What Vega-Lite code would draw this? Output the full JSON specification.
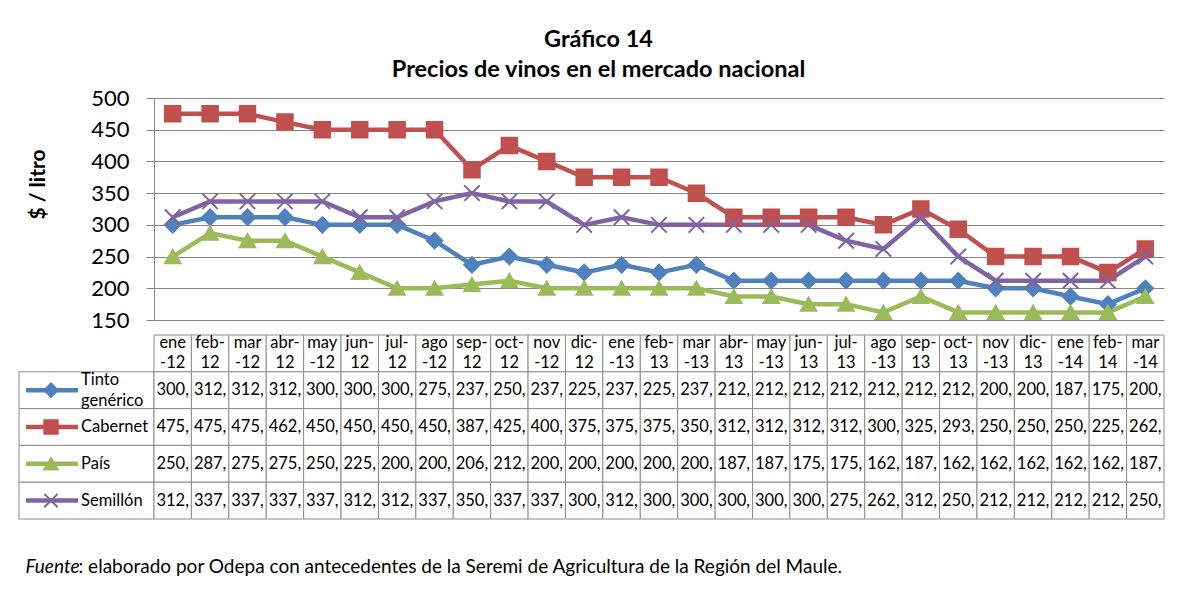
{
  "$schema": "https://vega.github.io/schema/vega-lite/v6.json",
  "padding": {"left": 18, "top": 27, "right": 5, "bottom": 5},
  "autosize": {"type": "pad"},
  "background": "white",
  "config": {
    "view": {"stroke": null},
    "font": "Lato",
    "text": {"font": "Lato", "color": "black"},
    "title": {"font": "Lato", "color": "black"},
    "axis": {"labelFont": "Lato", "titleFont": "Lato"}
  },
  "datasets": {
    "precios": [
      {"mes": "ene-12", "Tinto genérico": 300, "Cabernet": 475, "País": 250, "Semillón": 312},
      {"mes": "feb-12", "Tinto genérico": 312, "Cabernet": 475, "País": 287, "Semillón": 337},
      {"mes": "mar-12", "Tinto genérico": 312, "Cabernet": 475, "País": 275, "Semillón": 337},
      {"mes": "abr-12", "Tinto genérico": 312, "Cabernet": 462, "País": 275, "Semillón": 337},
      {"mes": "may-12", "Tinto genérico": 300, "Cabernet": 450, "País": 250, "Semillón": 337},
      {"mes": "jun-12", "Tinto genérico": 300, "Cabernet": 450, "País": 225, "Semillón": 312},
      {"mes": "jul-12", "Tinto genérico": 300, "Cabernet": 450, "País": 200, "Semillón": 312},
      {"mes": "ago-12", "Tinto genérico": 275, "Cabernet": 450, "País": 200, "Semillón": 337},
      {"mes": "sep-12", "Tinto genérico": 237, "Cabernet": 387, "País": 206, "Semillón": 350},
      {"mes": "oct-12", "Tinto genérico": 250, "Cabernet": 425, "País": 212, "Semillón": 337},
      {"mes": "nov-12", "Tinto genérico": 237, "Cabernet": 400, "País": 200, "Semillón": 337},
      {"mes": "dic-12", "Tinto genérico": 225, "Cabernet": 375, "País": 200, "Semillón": 300},
      {"mes": "ene-13", "Tinto genérico": 237, "Cabernet": 375, "País": 200, "Semillón": 312},
      {"mes": "feb-13", "Tinto genérico": 225, "Cabernet": 375, "País": 200, "Semillón": 300},
      {"mes": "mar-13", "Tinto genérico": 237, "Cabernet": 350, "País": 200, "Semillón": 300},
      {"mes": "abr-13", "Tinto genérico": 212, "Cabernet": 312, "País": 187, "Semillón": 300},
      {"mes": "may-13", "Tinto genérico": 212, "Cabernet": 312, "País": 187, "Semillón": 300},
      {"mes": "jun-13", "Tinto genérico": 212, "Cabernet": 312, "País": 175, "Semillón": 300},
      {"mes": "jul-13", "Tinto genérico": 212, "Cabernet": 312, "País": 175, "Semillón": 275},
      {"mes": "ago-13", "Tinto genérico": 212, "Cabernet": 300, "País": 162, "Semillón": 262},
      {"mes": "sep-13", "Tinto genérico": 212, "Cabernet": 325, "País": 187, "Semillón": 312},
      {"mes": "oct-13", "Tinto genérico": 212, "Cabernet": 293, "País": 162, "Semillón": 250},
      {"mes": "nov-13", "Tinto genérico": 200, "Cabernet": 250, "País": 162, "Semillón": 212},
      {"mes": "dic-13", "Tinto genérico": 200, "Cabernet": 250, "País": 162, "Semillón": 212},
      {"mes": "ene-14", "Tinto genérico": 187, "Cabernet": 250, "País": 162, "Semillón": 212},
      {"mes": "feb-14", "Tinto genérico": 175, "Cabernet": 225, "País": 162, "Semillón": 212},
      {"mes": "mar-14", "Tinto genérico": 200, "Cabernet": 262, "País": 187, "Semillón": 250}
    ],
    "series": [
      {"serie": "Tinto genérico"},
      {"serie": "Cabernet"},
      {"serie": "País"},
      {"serie": "Semillón"}
    ]
  },
  "title": {
    "text": ["Gráfico 14", "Precios de vinos en el mercado nacional"],
    "fontSize": 23.5,
    "fontWeight": "bold",
    "lineHeight": 30,
    "anchor": "middle",
    "dx": 7,
    "offset": 6
  },
  "columns": 2,
  "spacing": {"row": 15, "column": 0},
  "bounds": "flush",
  "resolve": {"scale": {"x": "independent", "y": "independent"}},
  "concat": [
    {
      "width": 135,
      "height": 222,
      "data": {"values": []},
      "mark": {"type": "point", "opacity": 0},
      "encoding": {}
    },
    {
      "width": 1010,
      "height": 222,
      "data": {"name": "precios"},
      "transform": [{"fold": ["Tinto genérico", "Cabernet", "País", "Semillón"], "as": ["serie", "valor"]}],
      "encoding": {
        "x": {"field": "mes", "type": "ordinal", "sort": null, "axis": null},
        "y": {
          "field": "valor",
          "type": "quantitative",
          "scale": {"domain": [150, 500], "nice": false, "zero": false},
          "axis": {
            "values": [150, 200, 250, 300, 350, 400, 450, 500],
            "grid": true,
            "gridColor": "#868686",
            "gridWidth": 1,
            "tickColor": "#868686",
            "tickSize": 8,
            "domainColor": "#868686",
            "domainWidth": 1,
            "labelFontSize": 22,
            "labelColor": "black",
            "labelPadding": 17,
            "title": "$ / litro",
            "titleFontSize": 21,
            "titleFontWeight": "bold",
            "titleColor": "black",
            "titlePadding": 42,
            "titleY": 86
          }
        },
        "color": {
          "field": "serie",
          "type": "nominal",
          "scale": {"domain": ["Tinto genérico", "Cabernet", "País", "Semillón"], "range": ["#4F81BD", "#C0504D", "#9BBB59", "#8064A2"]},
          "legend": null
        }
      },
      "layer": [
        {"mark": {"type": "line", "strokeWidth": 4.5}},
        {
          "mark": {"type": "point", "filled": true, "opacity": 1, "size": 240, "strokeWidth": 2},
          "encoding": {
            "shape": {
              "field": "serie",
              "type": "nominal",
              "scale": {"domain": ["Tinto genérico", "Cabernet", "País", "Semillón"], "range": ["diamond", "square", "M0,-0.85L1,0.85L-1,0.85Z", "M-1,-1L1,1M-1,1L1,-1"]},
              "legend": null
            },
            "stroke": {
              "field": "serie",
              "type": "nominal",
              "scale": {"domain": ["Tinto genérico", "Cabernet", "País", "Semillón"], "range": ["#4F81BD", "#C0504D", "#9BBB59", "#8064A2"]},
              "legend": null
            }
          }
        }
      ]
    },
    {
      "width": 135,
      "height": 184,
      "data": {"name": "series"},
      "title": {"text": "Fuente", "orient": "bottom", "anchor": "start", "fontStyle": "italic", "fontWeight": "normal", "fontSize": 19, "offset": 38, "dx": 7},
      "encoding": {
        "y": {
          "field": "serie",
          "type": "nominal",
          "scale": {"type": "band", "domain": ["hdr", "Tinto genérico", "Cabernet", "País", "Semillón"], "paddingInner": 0, "paddingOuter": 0},
          "axis": null
        }
      },
      "layer": [
        {
          "mark": {"type": "rect", "fill": "white", "stroke": "#8c8c8c", "strokeWidth": 1},
          "encoding": {
            "x": {"datum": 0, "type": "quantitative", "scale": {"domain": [0, 1]}, "axis": null},
            "x2": {"datum": 1}
          }
        },
        {
          "mark": {"type": "rule", "strokeWidth": 4.5},
          "encoding": {
            "x": {"datum": 0.052, "type": "quantitative", "scale": {"domain": [0, 1]}, "axis": null},
            "x2": {"datum": 0.437},
            "color": {
              "field": "serie",
              "type": "nominal",
              "scale": {"domain": ["Tinto genérico", "Cabernet", "País", "Semillón"], "range": ["#4F81BD", "#C0504D", "#9BBB59", "#8064A2"]},
              "legend": null
            }
          }
        },
        {
          "mark": {"type": "point", "filled": true, "opacity": 1, "size": 180, "strokeWidth": 2},
          "encoding": {
            "x": {"datum": 0.237, "type": "quantitative", "scale": {"domain": [0, 1]}, "axis": null},
            "color": {
              "field": "serie",
              "type": "nominal",
              "scale": {"domain": ["Tinto genérico", "Cabernet", "País", "Semillón"], "range": ["#4F81BD", "#C0504D", "#9BBB59", "#8064A2"]},
              "legend": null
            },
            "shape": {
              "field": "serie",
              "type": "nominal",
              "scale": {"domain": ["Tinto genérico", "Cabernet", "País", "Semillón"], "range": ["diamond", "square", "M0,-0.85L1,0.85L-1,0.85Z", "M-1,-1L1,1M-1,1L1,-1"]},
              "legend": null
            },
            "stroke": {
              "field": "serie",
              "type": "nominal",
              "scale": {"domain": ["Tinto genérico", "Cabernet", "País", "Semillón"], "range": ["#4F81BD", "#C0504D", "#9BBB59", "#8064A2"]},
              "legend": null
            }
          }
        },
        {
          "mark": {
            "type": "text",
            "align": "left",
            "fontSize": 16.5,
            "lineHeight": 21,
            "color": "black",
            "text": {"expr": "split(datum.serie, ' ')"},
            "dy": {"expr": "-(length(split(datum.serie, ' ')) - 1) * 10.5"}
          },
          "encoding": {
            "x": {"datum": 0.46, "type": "quantitative", "scale": {"domain": [0, 1]}, "axis": null}
          }
        }
      ]
    },
    {
      "width": 1010,
      "height": 184,
      "title": {"text": ": elaborado por Odepa con antecedentes de la Seremi de Agricultura de la Región del Maule.", "orient": "bottom", "anchor": "start", "fontWeight": "normal", "fontSize": 19, "offset": 38, "dx": -75},
      "encoding": {
        "x": {"field": "mes", "type": "ordinal", "sort": null, "scale": {"type": "band", "paddingInner": 0, "paddingOuter": 0}, "axis": null}
      },
      "layer": [
        {
          "data": {"name": "precios"},
          "mark": {"type": "rect", "fill": "white", "stroke": "#8c8c8c", "strokeWidth": 1},
          "encoding": {
            "y": {"datum": "hdr", "type": "nominal", "scale": {"type": "band", "domain": ["hdr", "Tinto genérico", "Cabernet", "País", "Semillón"], "paddingInner": 0, "paddingOuter": 0}, "axis": null}
          }
        },
        {
          "data": {"name": "precios"},
          "transform": [{"fold": ["Tinto genérico", "Cabernet", "País", "Semillón"], "as": ["serie", "valor"]}],
          "mark": {"type": "rect", "fill": "white", "stroke": "#8c8c8c", "strokeWidth": 1},
          "encoding": {
            "y": {"field": "serie", "type": "nominal"}
          }
        },
        {
          "data": {"name": "precios"},
          "mark": {
            "type": "text",
            "fontSize": 16.5,
            "lineHeight": 20,
            "dy": -10,
            "color": "black",
            "text": {"expr": "indexof(['ene','mar','may','ago','nov'], slice(datum.mes,0,3)) >= 0 ? [slice(datum.mes,0,3), slice(datum.mes,3)] : [slice(datum.mes,0,4), slice(datum.mes,4)]"}
          },
          "encoding": {
            "y": {"datum": "hdr", "type": "nominal"}
          }
        },
        {
          "data": {"name": "precios"},
          "transform": [{"fold": ["Tinto genérico", "Cabernet", "País", "Semillón"], "as": ["serie", "valor"]}],
          "mark": {"type": "text", "fontSize": 16.5, "color": "black", "text": {"expr": "datum.valor + ','"}},
          "encoding": {
            "y": {"field": "serie", "type": "nominal"}
          }
        }
      ]
    }
  ]
}
